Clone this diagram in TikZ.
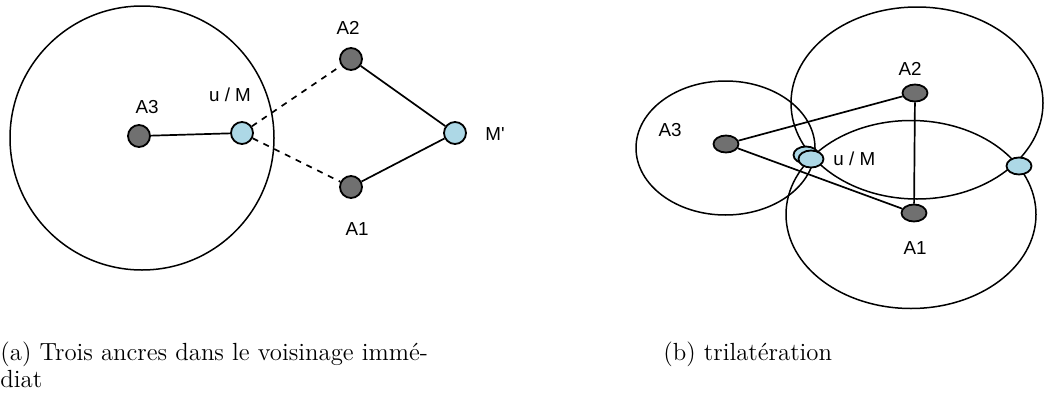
\documentclass[tikz,border=0pt]{standalone}
\usepackage{fontspec}
\newfontfamily\labelfont{Liberation Sans}
\usepackage{tikz}
\usetikzlibrary{positioning,shapes.geometric}

\definecolor{anchorgray}{HTML}{707070}
\definecolor{nodeblue}{HTML}{ADD8E6}

\begin{document}
\begin{tikzpicture}[
    x=0.5pt, y=-0.5pt,
    every node/.style={font=\fontsize{9.4}{11}\labelfont},
    anchornode/.style={
      circle, draw=black, line width=0.9pt, fill=anchorgray,
      minimum size=11pt, inner sep=0pt
    },
    posnode/.style={anchornode, fill=nodeblue},
    anchorell/.style={
      ellipse, draw=black, line width=0.9pt, fill=anchorgray,
      minimum width=12.5pt, minimum height=8.5pt, inner sep=0pt
    },
    posell/.style={anchorell, fill=nodeblue},
    link/.style={line width=0.85pt},
    rangecirc/.style={line width=0.75pt},
    caption/.style={font=\fontsize{12.4}{13.5}\selectfont\rmfamily, align=left, inner sep=0pt}
  ]
    \useasboundingbox (0,0) rectangle (1044,412);

    % (a) voisinage immediat
    \draw[rangecirc] (142,138) circle[radius=66pt];
    \node[anchornode] (a3) at (139,136) {};
    \node[posnode] (um) at (242,133) {};
    \node[anchornode] (a2) at (351,59) {};
    \node[anchornode] (a1) at (351,187) {};
    \node[posnode] (mp) at (455,133) {};

    \node at (147,107) {A3};
    \node at (230,95) {u / M};
    \node at (348,28) {A2};
    \node at (357,229) {A1};
    \node at (495,134) {M'};

    \draw[link] (a3) -- (um);
    \draw[link, dashed] (um) -- (a2);
    \draw[link, dashed] (um) -- (a1);
    \draw[link] (a2) -- (mp);
    \draw[link] (a1) -- (mp);

    % (b) trilateration
    \draw[rangecirc] (725.5,148) ellipse[x radius=44.75pt, y radius=33.5pt];
    \draw[rangecirc] (917,103) ellipse[x radius=63pt, y radius=48pt];
    \draw[rangecirc] (911,214.5) ellipse[x radius=62.5pt, y radius=47pt];

    \node[anchorell] (b3) at (726,144) {};
    \node[anchorell] (b2) at (915,93) {};
    \node[anchorell] (b1) at (914,213) {};
    \node[posell] (bback) at (806,155) {};
    \node[posell] (bum) at (811,159) {};
    \node[posell] (bmp) at (1019,166) {};

    \node at (670,130) {A3};
    \node at (910,69) {A2};
    \node[right=1pt of bum] {u / M};
    \node at (915,248) {A1};

    \draw[link] (b3) -- (b2);
    \draw[link] (b3) -- (b1);
    \draw[link] (b2) -- (b1);

    % legendes
    \node[caption, anchor=north west] (capa) at (0,341) {(a) Trois ancres dans le voisinage imm\'e-\\diat};
    \node[caption, anchor=north west] (capb) at (663,341) {(b) trilat\'eration};
  \end{tikzpicture}
\end{document}
